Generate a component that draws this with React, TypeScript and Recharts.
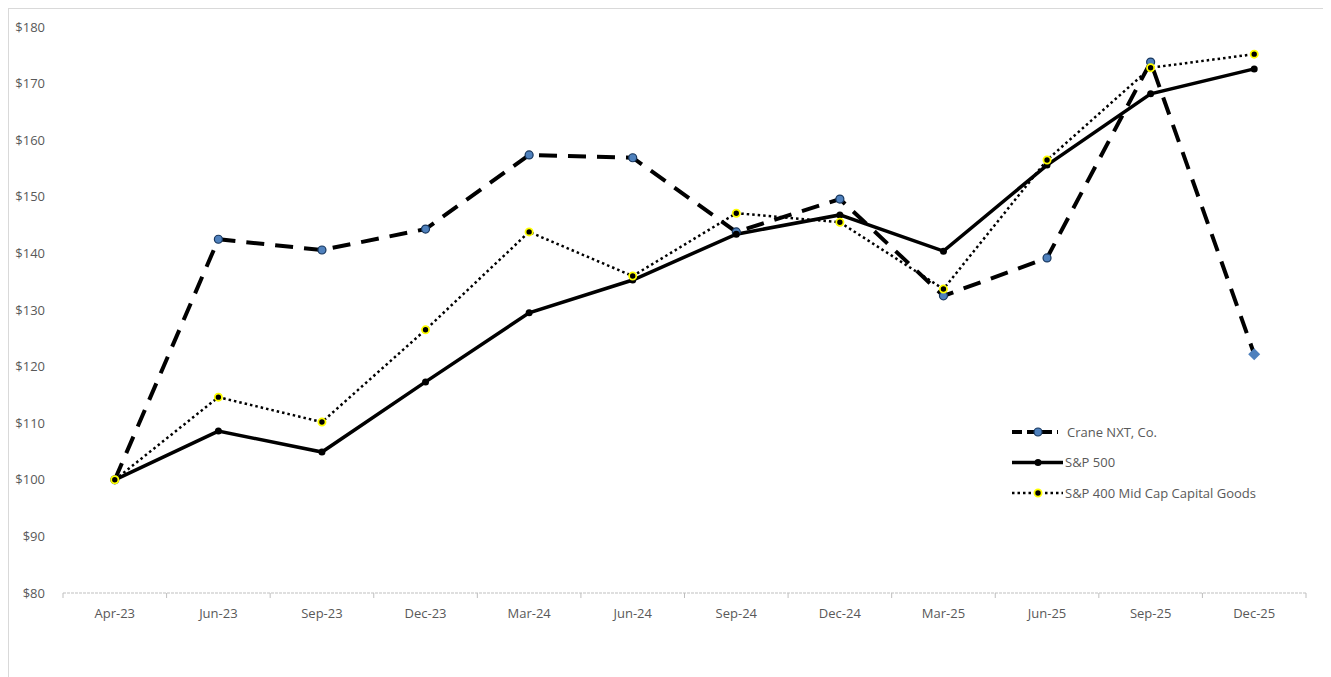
import React from 'react';
import { LineChart, Line, XAxis, YAxis } from 'recharts';

const categories = ['Apr-23', 'Jun-23', 'Sep-23', 'Dec-23', 'Mar-24', 'Jun-24', 'Sep-24', 'Dec-24', 'Mar-25', 'Jun-25', 'Sep-25', 'Dec-25'];
const craneNxt = [100, 142.5, 140.6, 144.3, 157.4, 156.9, 143.8, 149.6, 132.5, 139.2, 173.8, 122.2];
const sp500 = [100, 108.6, 104.9, 117.3, 129.5, 135.3, 143.4, 146.8, 140.4, 155.6, 168.2, 172.6];
const sp400CapGoods = [100, 114.6, 110.2, 126.5, 143.8, 136.0, 147.1, 145.5, 133.7, 156.5, 172.8, 175.2];
const yTicks = [80, 90, 100, 110, 120, 130, 140, 150, 160, 170, 180];

const data = categories.map((period, i) => ({
  period,
  crane: craneNxt[i],
  sp500: sp500[i],
  sp400: sp400CapGoods[i],
}));

const FONT = "'Open Sans', sans-serif";
const TEXT = '#595959';
const BLUE = '#4F81BD';
const CHART_W = 1321;
const CHART_H = 669;
const MARGIN = { top: 18, right: 24, bottom: 55, left: 0 };
const Y_AXIS_W = 54;
const BAND = (CHART_W - MARGIN.left - MARGIN.right - Y_AXIS_W) / categories.length;
const X_TICK_MARGIN = 16;

const XTick = (props: any) => {
  const { x, y, payload, index } = props;
  const axisY = y - X_TICK_MARGIN;
  return (
    <g>
      <line x1={x - BAND / 2} x2={x - BAND / 2} y1={axisY} y2={axisY + 5} stroke="#bfbfbf" />
      {index === categories.length - 1 && (
        <line x1={x + BAND / 2} x2={x + BAND / 2} y1={axisY} y2={axisY + 5} stroke="#bfbfbf" />
      )}
      <text x={x} y={y} dy="0.71em" textAnchor="middle" fill={TEXT} fontSize={13} fontFamily={FONT}>
        {payload.value}
      </text>
    </g>
  );
};

const CraneDot = (props: any) => {
  const { cx, cy, index } = props;
  if (cx == null || cy == null) return null;
  if (index === categories.length - 1) {
    const s = 6;
    return <path d={`M${cx},${cy - s} L${cx + s},${cy} L${cx},${cy + s} L${cx - s},${cy} Z`} fill={BLUE} />;
  }
  return <circle cx={cx} cy={cy} r={4} fill={BLUE} stroke="#17365D" strokeWidth={1.2} />;
};

const SpDot = (props: any) => {
  const { cx, cy } = props;
  if (cx == null || cy == null) return null;
  return <circle cx={cx} cy={cy} r={3.5} fill="#000" />;
};

const MidCapDot = (props: any) => {
  const { cx, cy } = props;
  if (cx == null || cy == null) return null;
  return <circle cx={cx} cy={cy} r={3.6} fill="#000" stroke="#FFFF00" strokeWidth={1.8} />;
};

const legendRows = [
  { name: 'Crane NXT, Co.', dash: '10 5', width: 4, marker: 'crane' },
  { name: 'S&P 500', dash: undefined, width: 3.5, marker: 'sp' },
  { name: 'S&P 400 Mid Cap Capital Goods', dash: '2.5 3', width: 2.5, marker: 'mid' },
];

const LegendBox = () => (
  <svg width={300} height={90} style={{ position: 'absolute', left: 999, top: 406 }}>
    {legendRows.map((r, i) => {
      const y = 17 + i * 30.5;
      const textX = r.marker === 'crane' ? 59 : 57;
      const lineEnd = r.marker === 'crane' ? 50 : 55;
      return (
        <g key={r.name}>
          <line x1={4} x2={lineEnd} y1={y} y2={y} stroke="#000" strokeWidth={r.width} strokeDasharray={r.dash} />
          {r.marker === 'crane' && <circle cx={30} cy={y} r={4} fill={BLUE} stroke="#17365D" strokeWidth={1.2} />}
          {r.marker === 'sp' && <circle cx={30} cy={y} r={3.5} fill="#000" />}
          {r.marker === 'mid' && <circle cx={30} cy={y} r={3.6} fill="#000" stroke="#FFFF00" strokeWidth={1.8} />}
          <text x={textX} y={y} dy="0.35em" fontSize={13} fill={TEXT} fontFamily={FONT}>
            {r.name}
          </text>
        </g>
      );
    })}
  </svg>
);

export default function App() {
  return (
    <div
      style={{
        position: 'relative',
        width: 1323,
        height: 671,
        border: '1px solid #d9d9d9',
        boxSizing: 'border-box',
        background: '#fff',
      }}
    >
      <LineChart width={CHART_W} height={CHART_H} data={data} margin={MARGIN}>
        <XAxis
          dataKey="period"
          tick={<XTick />}
          tickLine={false}
          tickSize={0}
          tickMargin={X_TICK_MARGIN}
          axisLine={{ stroke: '#bfbfbf', strokeDasharray: '3 1' }}
          interval={0}
          padding={{ left: BAND / 2, right: BAND / 2 }}
          height={30}
        />
        <YAxis
          width={Y_AXIS_W}
          domain={[80, 180]}
          ticks={yTicks}
          tickFormatter={(v: number) => `$${v}`}
          tick={{ fill: TEXT, fontSize: 13, fontFamily: FONT }}
          tickLine={false}
          axisLine={false}
          tickSize={0}
          tickMargin={18}
        />
        <Line
          dataKey="crane"
          name="Crane NXT, Co."
          stroke="#000"
          strokeWidth={4}
          strokeDasharray="18 11"
          dot={<CraneDot />}
          activeDot={false}
          isAnimationActive={false}
        />
        <Line
          dataKey="sp500"
          name="S&P 500"
          stroke="#000"
          strokeWidth={3.5}
          dot={<SpDot />}
          activeDot={false}
          isAnimationActive={false}
        />
        <Line
          dataKey="sp400"
          name="S&P 400 Mid Cap Capital Goods"
          stroke="#000"
          strokeWidth={2.5}
          strokeDasharray="2.5 3"
          dot={<MidCapDot />}
          activeDot={false}
          isAnimationActive={false}
        />
      </LineChart>
      <LegendBox />
    </div>
  );
}
